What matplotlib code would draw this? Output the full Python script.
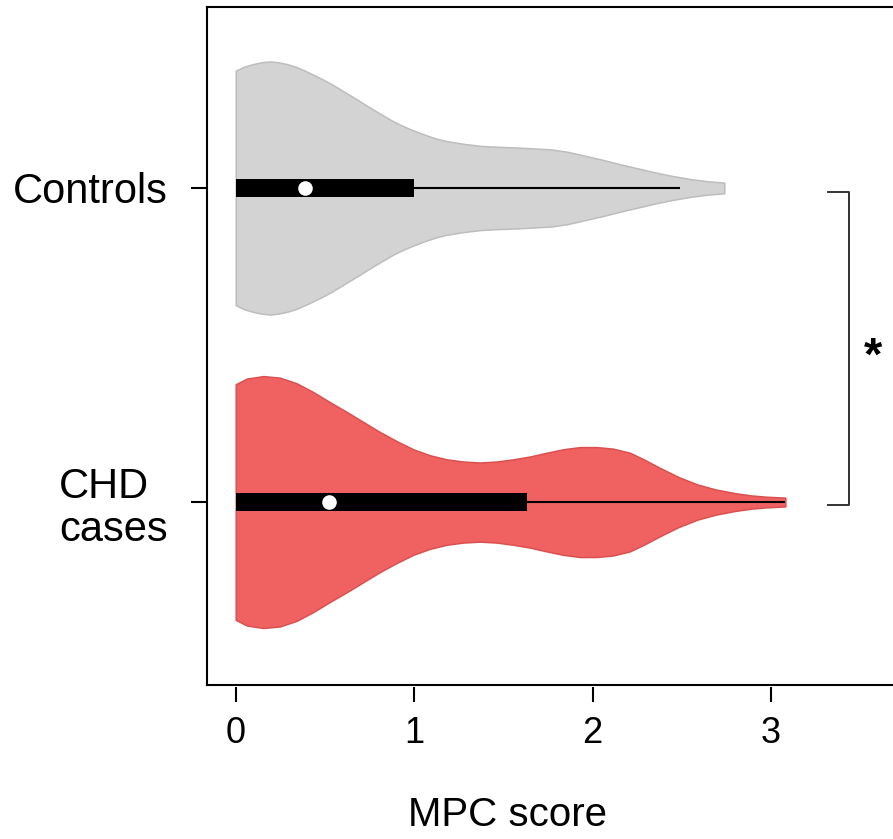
import numpy as np
import matplotlib
matplotlib.use("Agg")
import matplotlib.pyplot as plt

plt.rcParams['font.family'] = ['Liberation Sans', 'DejaVu Sans']

# violin outlines: score vs half-width (y units)
ctrl_x = [0, 0.047, 0.094, 0.143, 0.192, 0.24, 0.29, 0.34, 0.389, 0.437, 0.487, 0.536,
          0.586, 0.635, 0.685, 0.735, 0.784, 0.832, 0.88, 0.93, 0.979, 1.028,
          1.077, 1.125, 1.175, 1.27, 1.372, 1.47, 1.568, 1.665, 1.765, 1.861, 1.961,
          2.06, 2.158, 2.256, 2.354, 2.45, 2.551, 2.65, 2.738]
ctrl_w = [0.373, 0.386, 0.394, 0.400, 0.403, 0.400, 0.394, 0.385, 0.373, 0.360, 0.346, 0.331,
          0.314, 0.297, 0.280, 0.262, 0.245, 0.229, 0.213, 0.199, 0.187, 0.176,
          0.166, 0.157, 0.150, 0.141, 0.134, 0.131, 0.129, 0.126, 0.123, 0.115, 0.102,
          0.089, 0.075, 0.062, 0.049, 0.038, 0.028, 0.021, 0.017]

chd_x = [0, 0.062, 0.155, 0.248, 0.342, 0.435, 0.528, 0.622, 0.715, 0.808, 0.902,
         0.995, 1.088, 1.182, 1.275, 1.369, 1.462, 1.555, 1.649, 1.742, 1.835,
         1.929, 2.022, 2.115, 2.209, 2.29, 2.373, 2.48, 2.587, 2.69, 2.802, 2.89,
         2.973, 3.08]
chd_w = [0.375, 0.393, 0.401, 0.396, 0.378, 0.350, 0.318, 0.287, 0.255, 0.223, 0.194,
         0.168, 0.149, 0.136, 0.129, 0.126, 0.129, 0.136, 0.145, 0.157, 0.168,
         0.175, 0.175, 0.170, 0.157, 0.135, 0.110, 0.080, 0.056, 0.040, 0.028, 0.021,
         0.017, 0.014]

groups = ["CHD\ncases", "Controls"]
positions = [1, 2]
q1 = [0.0, 0.0]
q3 = [1.63, 1.0]
medians = [0.525, 0.386]
whisker_hi = [3.08, 2.49]

fills = ['#F06262', '#D3D3D3']
edges = ['#D9514F', '#BDBDBD']

fig = plt.figure(figsize=(8.93, 8.39), dpi=100)
ax = fig.add_axes([0.2318, 0.1841, 0.8115, 0.8075])

outlines = [(chd_x, chd_w), (ctrl_x, ctrl_w)]
for i, (xs, ws) in enumerate(outlines):
    xs = np.array(xs)
    ws = np.array(ws)
    y0 = positions[i]
    ax.fill_between(xs, y0 - ws, y0 + ws, facecolor=fills[i], edgecolor=edges[i],
                    linewidth=1.1, zorder=1)
    # whisker, box, median
    ax.hlines(y0, q1[i], whisker_hi[i], color='black', linewidth=1.5, zorder=2)
    ax.barh(y0, q3[i] - q1[i], left=q1[i], height=0.055, color='black', zorder=3)
    ax.plot(medians[i], y0, 'o', color='white', markersize=10.5, markeredgewidth=0, zorder=4)

# significance bracket
ax.plot([3.318, 3.436, 3.436, 3.318], [1.987, 1.987, 0.99, 0.99], color='#333333',
        linewidth=1.4, clip_on=False)
ax.text(3.57, 1.42, '*', fontsize=34, fontweight='bold', ha='center', va='baseline')

ax.set_xlim(-0.161, 3.9)
ax.set_ylim(0.419, 2.576)

for side in ['top', 'left', 'bottom']:
    ax.spines[side].set_linewidth(1.5)
ax.spines['right'].set_visible(False)
# ticks sit a little below the box, so move the bottom spine out and redraw the box edge
ax.spines['bottom'].set_position(('outward', 2))
ax.spines['bottom'].set_visible(False)
ax.axhline(0.419, color='black', linewidth=1.5, clip_on=False)

ax.set_xticks([0, 1, 2, 3])
ax.set_xticklabels(['0', '1', '2', '3'])
ax.set_yticks(positions)
ax.set_yticklabels(groups, linespacing=1.1, multialignment='left')

ax.tick_params(axis='x', length=11, width=1.5, pad=10, labelsize=26)
ax.tick_params(axis='y', length=11.5, width=1.5, pad=17, labelsize=30)

ax.set_xlabel('MPC score', fontsize=29)
ax.xaxis.set_label_coords(0.4147, -0.192)
ax.xaxis.label.set_va('center')

fig.savefig('out.png', dpi=100)
